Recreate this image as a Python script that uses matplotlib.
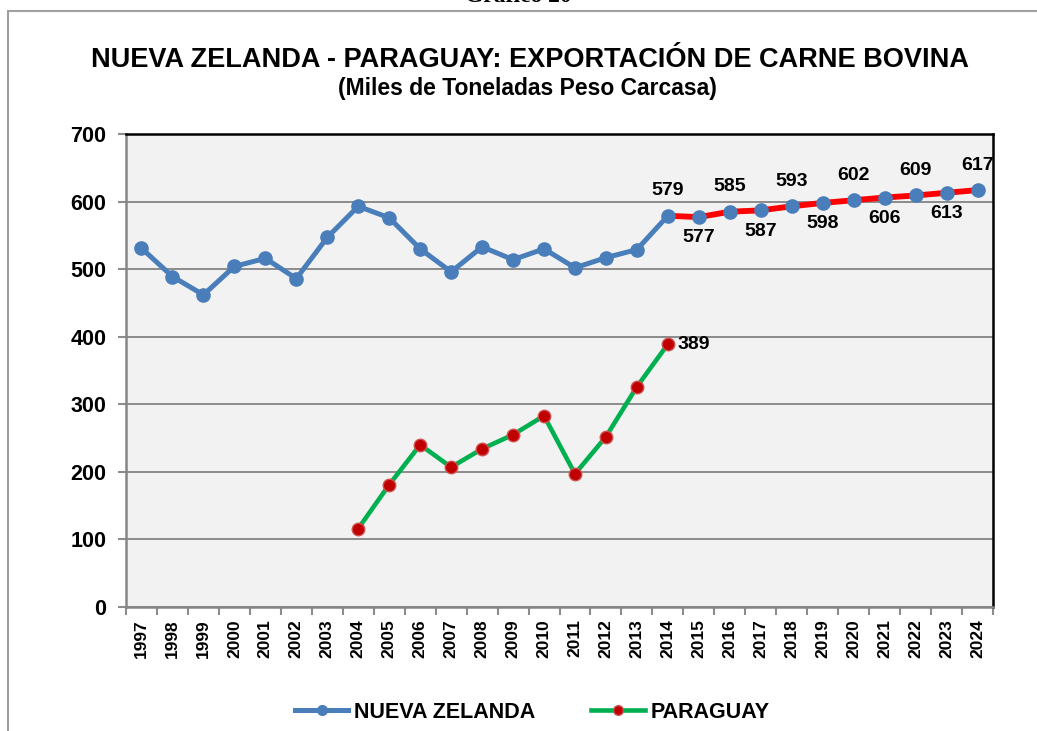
import matplotlib
matplotlib.use("Agg")
import matplotlib.pyplot as plt
from matplotlib.patches import Rectangle

plt.rcParams['font.family'] = ['Liberation Sans', 'DejaVu Sans']

years = [str(y) for y in range(1997, 2025)]
nueva_zelanda = [531, 489, 462, 504, 516, 486, 547, 593, 576, 530, 496, 533, 514, 530,
                 502, 517, 529, 579, 577, 585, 587, 593, 598, 602, 606, 609, 613, 617]
paraguay_years = years[7:18]
paraguay = [116, 181, 240, 207, 234, 255, 283, 197, 252, 326, 389]
proj_start = 17  # 2014 onwards drawn in red

nz_blue = '#4A7EBB'
grid_gray = '#8C8C8C'

fig = plt.figure(figsize=(10.37, 7.31), dpi=100)

# outer frame of the original sheet
fig.patches.append(Rectangle((8 / 1037, -0.1), 1.2, 1.1 - 11 / 731, transform=fig.transFigure,
                             fill=False, edgecolor='#A0A0A0', linewidth=1.5))
fig.text(0.5, 1 - 2 / 731, 'Gráfico 20', ha='center', va='baseline', fontsize=17,
         fontweight='bold', family=['Liberation Serif', 'DejaVu Serif'])

ax = fig.add_axes([126 / 1037, 1 - 607 / 731, (993 - 126) / 1037, (607 - 134) / 731])
ax.set_facecolor('#F2F2F2')

x = list(range(len(years)))
px = [years.index(y) for y in paraguay_years]

ax.plot(x[:proj_start + 1], nueva_zelanda[:proj_start + 1], color=nz_blue, lw=3.6, zorder=3)
ax.plot(x[proj_start:], nueva_zelanda[proj_start:], color='#FF0000', lw=4.2, zorder=4)
ax.plot(x, nueva_zelanda, ls='none', marker='o', ms=9.5, color=nz_blue, zorder=5)
ax.plot(px, paraguay, color='#00B050', lw=3.3, marker='o', ms=9, markerfacecolor='#C00000',
        markeredgecolor='#D05050', markeredgewidth=1, zorder=3)

# data labels, alternating above / below
for i in range(proj_start, len(years)):
    above = (i - proj_start) % 2 == 0
    ax.annotate(str(nueva_zelanda[i]), (x[i], nueva_zelanda[i]),
                xytext=(0, 18 if above else -15), textcoords='offset points',
                ha='center', va='center', fontsize=14, fontweight='bold', zorder=6)
ax.annotate(str(paraguay[-1]), (px[-1], paraguay[-1]), xytext=(7, 0), textcoords='offset points',
            ha='left', va='center', fontsize=14, fontweight='bold', zorder=6)

ax.set_xlim(-0.5, len(years) - 0.5)
ax.set_ylim(0, 700)
ax.set_yticks(range(0, 701, 100))
ax.set_xticks(x)
ax.set_xticklabels(years, rotation=90, fontsize=12.5, fontweight='bold')
ax.set_xticks([i - 0.5 for i in range(len(years) + 1)], minor=True)
ax.tick_params(axis='x', which='major', length=0, pad=9)
ax.tick_params(axis='x', which='minor', length=6, width=1.5, color=grid_gray)
ax.tick_params(axis='y', length=6, width=1.5, color=grid_gray, labelsize=15.5, pad=8)
for lbl in ax.get_yticklabels():
    lbl.set_fontweight('bold')

ax.grid(axis='y', color=grid_gray, lw=1.4, zorder=1)
ax.set_axisbelow(True)
for side in ['left', 'bottom']:
    ax.spines[side].set_color('#868686')
    ax.spines[side].set_linewidth(1.8)
for side in ['top', 'right']:
    ax.spines[side].set_color('black')
    ax.spines[side].set_linewidth(1.8)

fig.text(530 / 1037, 1 - 60 / 731, 'NUEVA ZELANDA - PARAGUAY: EXPORTACIÓN DE CARNE BOVINA',
         ha='center', va='center', fontsize=19.5, fontweight='bold')
fig.text(527 / 1037, 1 - 89 / 731, '(Miles de Toneladas Peso Carcasa)',
         ha='center', va='center', fontsize=16.5, fontweight='bold')

h_nz = plt.Line2D([], [], color=nz_blue, lw=3.6, marker='o', ms=7)
h_py = plt.Line2D([], [], color='#00B050', lw=3.3, marker='o', ms=7, markerfacecolor='#C00000',
                  markeredgecolor='#D05050')
fig.legend([h_nz, h_py], ['NUEVA ZELANDA', 'PARAGUAY'], loc='center',
           bbox_to_anchor=(532 / 1037, 1 - 712 / 731), ncol=2, frameon=False, handlelength=2.5,
           handletextpad=0.25, columnspacing=2.6, prop={'size': 15.5, 'weight': 'bold'})

fig.savefig('out.png', dpi=100)
